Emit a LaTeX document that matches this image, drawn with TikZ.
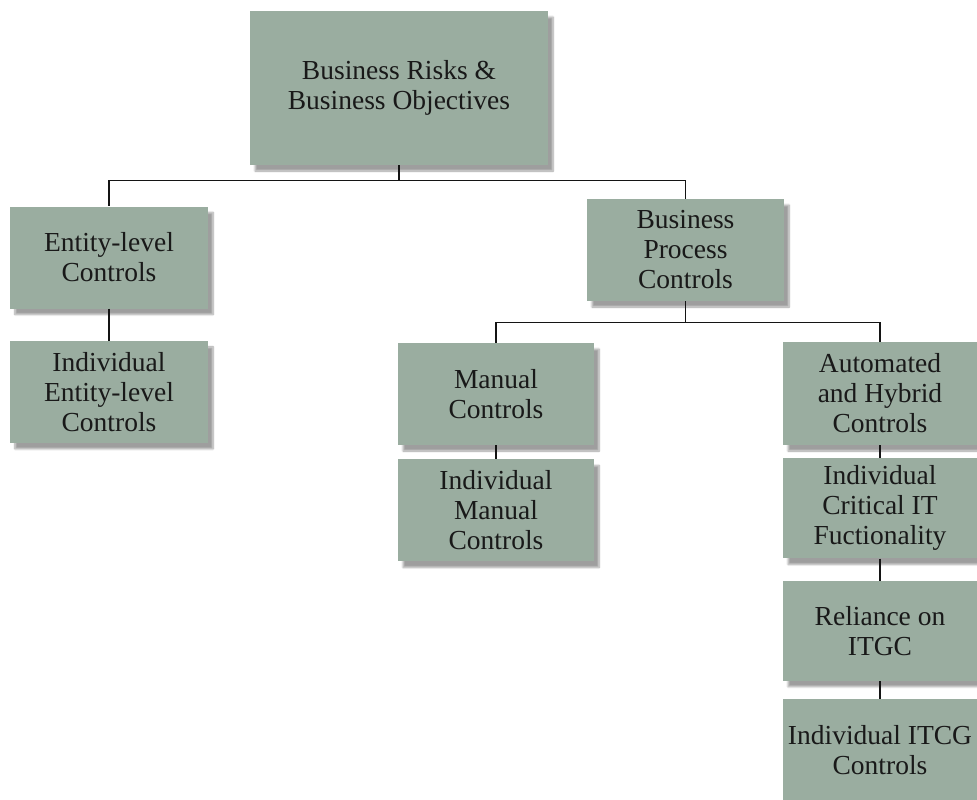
\documentclass[tikz,border=0pt]{standalone}
\usepackage{fontspec}
\setmainfont{Liberation Serif}
\usepackage{xcolor}
\usepackage{tikz}
\usetikzlibrary{positioning,shadows.blur}
\definecolor{boxgreen}{RGB}{154,173,160}
\definecolor{linegray}{RGB}{20,20,20}

\begin{document}
\begin{tikzpicture}[
        x=1pt, y=1pt,
        ctrl/.style={rectangle, fill=boxgreen, align=center, inner sep=0pt,
                     minimum width=198pt, minimum height=102pt,
                     font=\fontsize{27.5}{30}\selectfont, text=black!90,
                     blur shadow={shadow xshift=5pt, shadow yshift=-6pt, shadow blur steps=8, shadow opacity=38}},
        link/.style={line width=1.2pt, linegray}
    ]
        \useasboundingbox (0,0) rectangle (977,-800);

        % top level
        \node[ctrl, minimum width=298pt, minimum height=154pt] (risks) at (399,-88) {Business Risks \&\\Business Objectives};

        % second level
        \node[ctrl] (entity) at (109,-257.5) {Entity-level\\Controls};
        \node[ctrl, minimum width=197pt] (process) at (685.5,-250) {Business\\Process\\Controls};

        % entity-level branch
        \node[ctrl, below=32pt of entity] (indentity) {Individual\\Entity-level\\Controls};

        % manual branch
        \node[ctrl, minimum width=196pt] (manual) at (496,-394) {Manual\\Controls};
        \node[ctrl, minimum width=196pt, below=14pt of manual] (indmanual) {Individual\\Manual\\Controls};

        % automated branch
        \node[ctrl, minimum width=194pt, minimum height=103pt] (auto) at (880,-393.5) {Automated\\and Hybrid\\Controls};
        \node[ctrl, minimum width=194pt, minimum height=100pt, below=13pt of auto] (critical) {Individual\\Critical IT\\Fuctionality};
        \node[ctrl, minimum width=194pt, minimum height=100pt, below=22pt of critical] (reliance) {Reliance on\\ITGC};
        \node[ctrl, minimum width=194pt, below=18pt of reliance] (itcg) {Individual ITCG\\Controls};

        % connectors
        \draw[link] (risks.south) -- ++(0,-15) -| (entity);
        \draw[link] (risks.south) -- ++(0,-15) -| (process);
        \draw[link] (entity) -- (indentity);
        \draw[link] (process.south) -- ++(0,-21) -| (manual);
        \draw[link] (process.south) -- ++(0,-21) -| (auto);
        \draw[link] (manual) -- (indmanual);
        \draw[link] (auto) -- (critical);
        \draw[link] (critical) -- (reliance);
        \draw[link] (reliance) -- (itcg);
    \end{tikzpicture}
\end{document}
